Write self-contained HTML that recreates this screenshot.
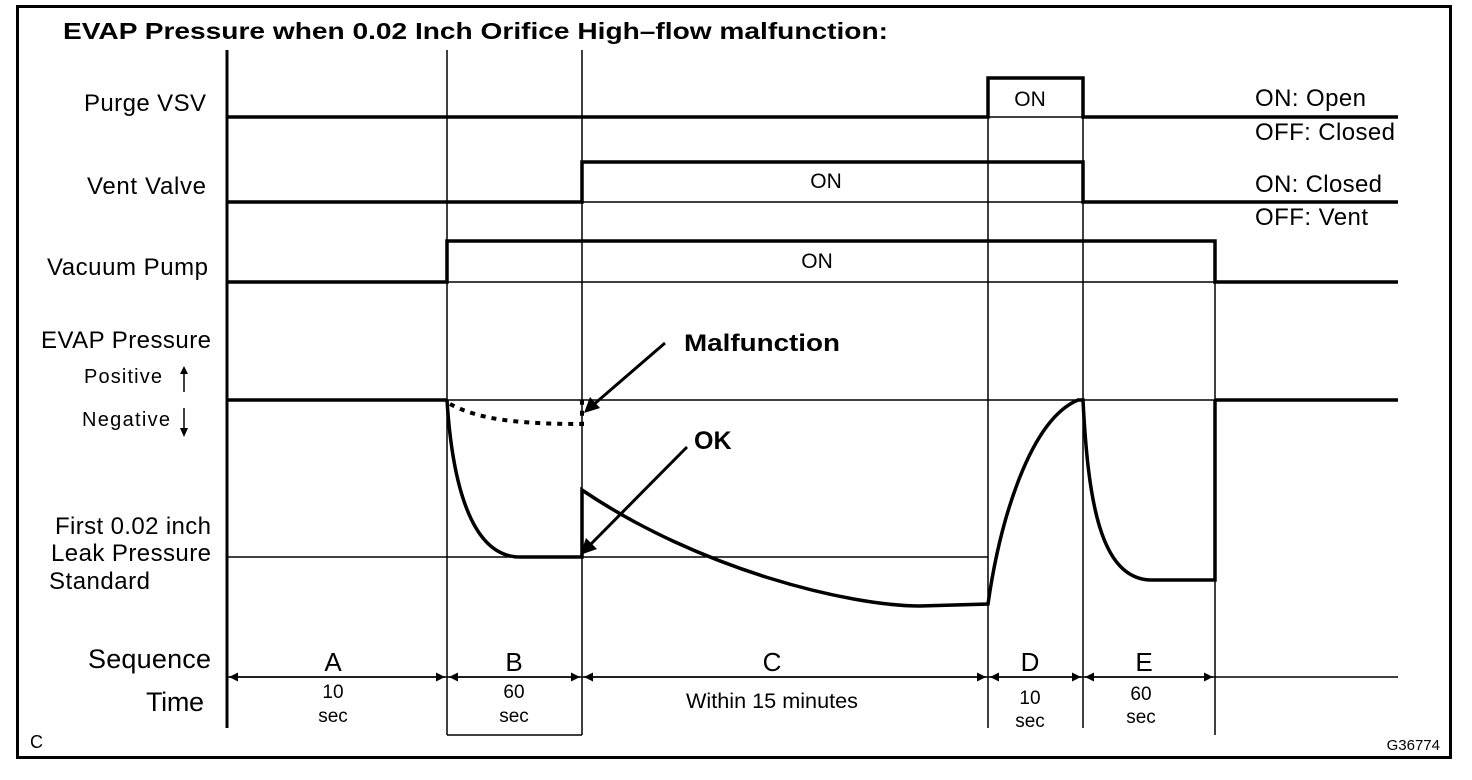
<!DOCTYPE html>
<html><head><meta charset="utf-8"><style>
html,body{margin:0;padding:0;background:#fff}
svg{display:block}
text{font-family:"Liberation Sans",Arial,sans-serif;fill:#000}
</style></head><body>
<svg width="1472" height="780" viewBox="0 0 1472 780" xmlns="http://www.w3.org/2000/svg">
<defs>
<marker id="ah" viewBox="0 0 10 10" refX="10" refY="5" markerWidth="13" markerHeight="9" orient="auto-start-reverse" markerUnits="userSpaceOnUse"><path d="M0,0 L10,5 L0,10 z"/></marker>
</defs>
<rect x="17.5" y="6.5" width="1433" height="751" fill="none" stroke="#000" stroke-width="3"/>
<text x="63" y="39" font-size="23" font-weight="bold" textLength="825" lengthAdjust="spacingAndGlyphs">EVAP Pressure when 0.02 Inch Orifice High–flow malfunction:</text>

<line x1="227" y1="50" x2="227" y2="728" stroke="#000" stroke-width="3"/>
<g stroke="#000" stroke-width="1.5">
<line x1="447" y1="50" x2="447" y2="735"/>
<line x1="582" y1="50" x2="582" y2="735"/>
<line x1="447" y1="735" x2="582" y2="735"/>
<line x1="988" y1="78" x2="988" y2="728"/>
<line x1="1083" y1="78" x2="1083" y2="728"/>
<line x1="1215" y1="241" x2="1215" y2="735"/>
<line x1="988" y1="117" x2="1083" y2="117"/>
<line x1="582" y1="202" x2="1083" y2="202"/>
<line x1="447" y1="282" x2="1215" y2="282"/>
<line x1="227" y1="400" x2="1398" y2="400"/>
<line x1="227" y1="557" x2="988" y2="557"/>
<line x1="227" y1="677" x2="1398" y2="677"/>
</g>
<g fill="none" stroke="#000" stroke-width="3.5">
<polyline points="227,117 988,117 988,78 1083,78 1083,117 1398,117"/>
<polyline points="227,202 582,202 582,162 1083,162 1083,202 1398,202"/>
<polyline points="227,282 447,282 447,241 1215,241 1215,282 1398,282"/>
<line x1="227" y1="400" x2="447" y2="400"/>
<line x1="1215" y1="400" x2="1398" y2="400"/>
<path d="M447,400 C452,480 470,557 520,557 L582,557 L582,490 C700,570 850,606 920,606 L988,604 C1000,520 1030,420 1078,400 L1083,400 C1088,500 1100,578 1150,580 L1215,580 L1215,400"/>
<path d="M450,404 C480,420 520,424 582,424 L582,400" stroke-dasharray="5,6" stroke-width="4"/>
</g>
<g stroke="#000" stroke-width="3">
<line x1="665" y1="343" x2="592" y2="406"/>
<line x1="687" y1="447" x2="590" y2="545"/>
</g>
<path d="M584,413 L590,397 L600,408 z"/>
<path d="M580,555 L586,538 L597,549 z"/>
<text x="684" y="351" font-size="24" font-weight="bold" textLength="156" lengthAdjust="spacingAndGlyphs">Malfunction</text>
<text x="694" y="449" font-size="25" font-weight="bold">OK</text>

<g stroke="#000" stroke-width="1.5" marker-start="url(#ah)" marker-end="url(#ah)">
<line x1="229" y1="677" x2="445" y2="677"/>
<line x1="449" y1="677" x2="580" y2="677"/>
<line x1="584" y1="677" x2="986" y2="677"/>
<line x1="990" y1="677" x2="1081" y2="677"/>
<line x1="1085" y1="677" x2="1213" y2="677"/>
</g>

<g font-size="24" lengthAdjust="spacingAndGlyphs">
<text x="84" y="111" textLength="122">Purge VSV</text>
<text x="87" y="194" textLength="119">Vent Valve</text>
<text x="47" y="275" textLength="161">Vacuum Pump</text>
<text x="41" y="348" textLength="170">EVAP Pressure</text>
<text x="55" y="534" textLength="156">First 0.02 inch</text>
<text x="51" y="561" textLength="160">Leak Pressure</text>
<text x="49" y="589" textLength="101">Standard</text>
<text x="88" y="668" font-size="27" textLength="123">Sequence</text>
<text x="146" y="711" font-size="27" textLength="58">Time</text>
<text x="84" y="383" font-size="20" textLength="78">Positive</text>
<text x="82" y="426" font-size="20" textLength="88">Negative</text>
</g>
<line x1="184" y1="372" x2="184" y2="392" stroke="#000" stroke-width="1.5"/>
<path d="M180,374 L184,366 L188,374 z"/>
<line x1="184" y1="408" x2="184" y2="430" stroke="#000" stroke-width="1.5"/>
<path d="M180,428 L184,437 L188,428 z"/>

<g font-size="21" text-anchor="middle">
<text x="1030" y="106">ON</text>
<text x="826" y="188">ON</text>
<text x="817" y="268">ON</text>
</g>
<g font-size="24" lengthAdjust="spacingAndGlyphs">
<text x="1255" y="106" textLength="111">ON: Open</text>
<text x="1255" y="140" textLength="140">OFF: Closed</text>
<text x="1255" y="192" textLength="127">ON: Closed</text>
<text x="1255" y="225" textLength="113">OFF: Vent</text>
</g>

<g font-size="26" text-anchor="middle">
<text x="333" y="671">A</text>
<text x="514" y="671">B</text>
<text x="772" y="671">C</text>
<text x="1030" y="671">D</text>
<text x="1144" y="671">E</text>
</g>
<g font-size="19" text-anchor="middle">
<text x="333" y="698">10</text><text x="333" y="722">sec</text>
<text x="514" y="698">60</text><text x="514" y="722">sec</text>
<text x="1030" y="704">10</text><text x="1030" y="727">sec</text>
<text x="1141" y="700">60</text><text x="1141" y="723">sec</text>
</g>
<text x="686" y="708" font-size="21" textLength="172" lengthAdjust="spacingAndGlyphs">Within 15 minutes</text>
<text x="30" y="748" font-size="18">C</text>
<text x="1440" y="750" font-size="15" text-anchor="end">G36774</text>
</svg>
</body></html>
